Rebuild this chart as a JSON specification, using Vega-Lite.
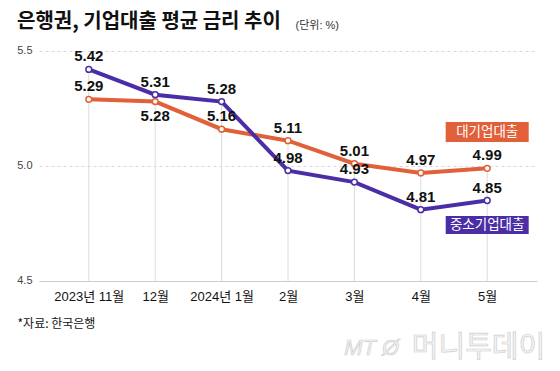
{
  "$schema": "https://vega.github.io/schema/vega-lite/v6.json",
  "width": 498,
  "height": 230,
  "autosize": {"type": "none"},
  "padding": {"left": 39, "top": 51, "right": 23, "bottom": 90},
  "background": "white",
  "config": {"font": "Liberation Sans, Noto Sans CJK KR", "view": {"stroke": null}},
  "title": {"text": "은행권, 기업대출 평균 금리 추이", "anchor": "start", "frame": "group", "dx": -22, "dy": 21, "fontSize": 20, "fontWeight": "bold", "font": "Noto Sans CJK KR", "color": "#111", "offset": 8},
  "data": {"values": [
    {"month": "2023년 11월", "series": "대기업대출", "rate": 5.29},
    {"month": "12월", "series": "대기업대출", "rate": 5.28},
    {"month": "2024년 1월", "series": "대기업대출", "rate": 5.16},
    {"month": "2월", "series": "대기업대출", "rate": 5.11},
    {"month": "3월", "series": "대기업대출", "rate": 5.01},
    {"month": "4월", "series": "대기업대출", "rate": 4.97},
    {"month": "5월", "series": "대기업대출", "rate": 4.99},
    {"month": "2023년 11월", "series": "중소기업대출", "rate": 5.42},
    {"month": "12월", "series": "중소기업대출", "rate": 5.31},
    {"month": "2024년 1월", "series": "중소기업대출", "rate": 5.28},
    {"month": "2월", "series": "중소기업대출", "rate": 4.98},
    {"month": "3월", "series": "중소기업대출", "rate": 4.93},
    {"month": "4월", "series": "중소기업대출", "rate": 4.81},
    {"month": "5월", "series": "중소기업대출", "rate": 4.85}
  ]},
  "encoding": {
    "x": {"field": "month", "type": "ordinal",
      "sort": ["2023년 11월", "12월", "2024년 1월", "2월", "3월", "4월", "5월"],
      "scale": {"type": "point", "padding": 0.75},
      "axis": {"title": "*자료: 한국은행", "titleX": -22, "titleY": 42, "titleAlign": "left", "titleBaseline": "middle", "titleAnchor": "start", "titleFontSize": 12, "titleFontWeight": "normal", "titleColor": "#111", "titleFont": "Noto Sans CJK KR",
        "labelAngle": 0, "labelFontSize": 13, "labelColor": "#111", "labelPadding": 9, "ticks": false, "grid": false, "domainColor": "#ccc", "domainWidth": 1}
    },
    "y": {"field": "rate", "type": "quantitative",
      "scale": {"domain": [4.5, 5.5], "nice": false, "zero": false},
      "axis": {"values": [4.5, 5.0, 5.5], "format": ".1f", "title": "(단위: %)", "titleAngle": 0, "titleX": 256, "titleY": -26, "titleAlign": "left", "titleBaseline": "middle", "titleFontSize": 11, "titleFontWeight": "normal", "titleColor": "#333",
        "domain": false, "ticks": false, "labelFontSize": 11, "labelColor": "#444", "labelPadding": 7, "labelBaseline": "middle", "labelOffset": -1,
        "grid": true, "gridDash": [3, 3], "gridColor": "#d8d8d8", "gridWidth": 1}
    }
  },
  "layer": [
    {
      "transform": [{"aggregate": [{"op": "max", "field": "rate", "as": "top"}], "groupby": ["month"]}],
      "mark": {"type": "rule", "color": "#dcdcdc", "strokeWidth": 1},
      "encoding": {"y": {"field": "top", "type": "quantitative"}, "y2": {"datum": 4.5}}
    },
    {
      "mark": {"type": "line", "strokeWidth": 4},
      "encoding": {"color": {"field": "series", "type": "nominal", "scale": {"domain": ["중소기업대출", "대기업대출"], "range": ["#4B2DA6", "#E1603A"]}, "legend": null}}
    },
    {
      "mark": {"type": "point", "filled": false, "fill": "white", "fillOpacity": 1, "size": 34, "strokeWidth": 1.5, "opacity": 1},
      "encoding": {"stroke": {"field": "series", "type": "nominal", "scale": {"domain": ["중소기업대출", "대기업대출"], "range": ["#4B2DA6", "#E1603A"]}, "legend": null}}
    },
    {
      "transform": [{"filter": "!(datum.series == '대기업대출' && datum.month == '12월')"}],
      "mark": {"type": "text", "dy": -13, "fontSize": 15, "fontWeight": "bold", "color": "#111", "baseline": "middle"},
      "encoding": {"text": {"field": "rate", "type": "quantitative", "format": ".2f"}}
    },
    {
      "transform": [{"filter": "datum.series == '대기업대출' && datum.month == '12월'"}],
      "mark": {"type": "text", "dy": 14, "fontSize": 15, "fontWeight": "bold", "color": "#111", "baseline": "middle"},
      "encoding": {"text": {"field": "rate", "type": "quantitative", "format": ".2f"}}
    },
    {
      "transform": [{"filter": "datum.series == '대기업대출' && datum.month == '5월'"}],
      "mark": {"type": "rule", "color": "#E1603A", "strokeWidth": 20, "strokeCap": "butt", "xOffset": -41.5, "x2Offset": 41.5},
      "encoding": {"x2": {"field": "month"}, "y": {"datum": 5.148}}
    },
    {
      "transform": [{"filter": "datum.series == '대기업대출' && datum.month == '5월'"}],
      "mark": {"type": "text", "fontSize": 13.5, "color": "white", "font": "Noto Sans CJK KR", "baseline": "middle"},
      "encoding": {"y": {"datum": 5.148}, "text": {"field": "series"}}
    },
    {
      "transform": [{"filter": "datum.series == '중소기업대출' && datum.month == '5월'"}],
      "mark": {"type": "rule", "color": "#4B2DA6", "strokeWidth": 18, "strokeCap": "butt", "xOffset": -41.5, "x2Offset": 41.5},
      "encoding": {"x2": {"field": "month"}, "y": {"datum": 4.743}}
    },
    {
      "transform": [{"filter": "datum.series == '중소기업대출' && datum.month == '5월'"}],
      "mark": {"type": "text", "fontSize": 13.5, "color": "white", "font": "Noto Sans CJK KR", "baseline": "middle"},
      "encoding": {"y": {"datum": 4.743}, "text": {"field": "series"}}
    },
    {
      "transform": [{"filter": "datum.series == '중소기업대출' && datum.month == '5월'"}],
      "mark": {"type": "text", "text": "머니투데이", "fontSize": 29, "fill": "#f6f6f6", "stroke": "#cdcdcd", "strokeWidth": 0.7, "align": "right", "baseline": "middle", "xOffset": 58, "yOffset": 67, "font": "Noto Sans CJK KR"},
      "encoding": {"y": {"datum": 4.5}}
    },
    {
      "transform": [{"filter": "datum.series == '중소기업대출' && datum.month == '5월'"}],
      "mark": {"type": "text", "text": "MT Ø", "fontSize": 22, "fontStyle": "italic", "fill": "#f6f6f6", "stroke": "#cdcdcd", "strokeWidth": 0.7, "align": "right", "baseline": "middle", "xOffset": -88, "yOffset": 67},
      "encoding": {"y": {"datum": 4.5}}
    }
  ]
}
